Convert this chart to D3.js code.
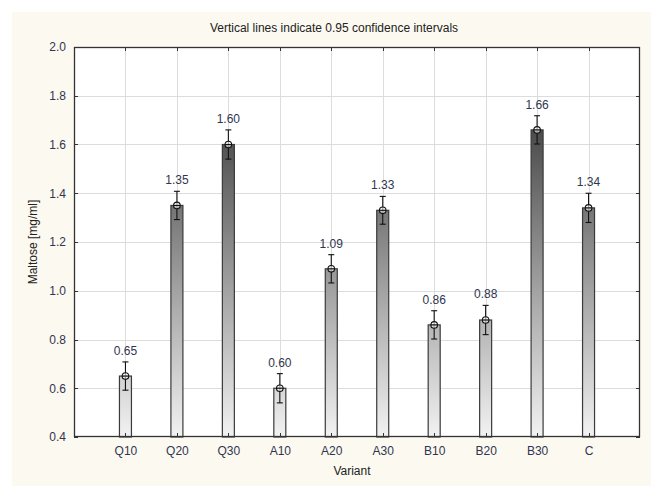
<!DOCTYPE html>
<html>
<head>
<meta charset="utf-8">
<script src="https://cdn.jsdelivr.net/npm/d3@7"></script>
<style>
  html, body { margin: 0; padding: 0; background: #ffffff; }
  svg { display: block; }
  text { font-family: Arial, "Liberation Sans", sans-serif; }
</style>
</head>
<body>
<script>
// Maltose concentration per variant, with 0.95 confidence half-widths
const categories = ["Q10", "Q20", "Q30", "A10", "A20", "A30", "B10", "B20", "B30", "C"];
const means = [0.65, 1.35, 1.60, 0.60, 1.09, 1.33, 0.86, 0.88, 1.66, 1.34];
const ciHalf = [0.058, 0.058, 0.060, 0.060, 0.058, 0.057, 0.058, 0.060, 0.058, 0.060];
const yTicks = [0.4, 0.6, 0.8, 1.0, 1.2, 1.4, 1.6, 1.8, 2.0];

const W = 651, H = 486;
const plot = { left: 74, top: 47, right: 640, bottom: 437 };

const svg = d3.select("body").append("svg").attr("width", W).attr("height", H);

// panel background
svg.append("rect").attr("x", 12).attr("y", 12).attr("width", W - 12).attr("height", H - 12)
  .attr("fill", "#fcf9f0");
svg.append("rect").attr("x", plot.left).attr("y", plot.top)
  .attr("width", plot.right - plot.left).attr("height", plot.bottom - plot.top)
  .attr("fill", "#ffffff");

const x = d3.scalePoint().domain(categories).range([plot.left, plot.right]).padding(1);
const y = d3.scaleLinear().domain([0.4, 2.0]).range([plot.bottom, plot.top]);

// bar fill gradient spanning the whole value axis
const defs = svg.append("defs");
const grad = defs.append("linearGradient").attr("id", "barGrad")
  .attr("gradientUnits", "userSpaceOnUse")
  .attr("x1", 0).attr("x2", 0).attr("y1", y(2.0)).attr("y2", y(0.4));
grad.append("stop").attr("offset", "0%").attr("stop-color", "#1e1e1e");
grad.append("stop").attr("offset", "100%").attr("stop-color", "#f2f2f2");

// grid
const grid = svg.append("g").attr("stroke", "#dcdcdc").attr("stroke-width", 1);
grid.selectAll("line.h").data(yTicks.slice(1, -1)).join("line")
  .attr("x1", plot.left).attr("x2", plot.right)
  .attr("y1", d => Math.round(y(d)) + 0.5).attr("y2", d => Math.round(y(d)) + 0.5);
grid.selectAll("line.v").data(categories).join("line")
  .attr("y1", plot.top).attr("y2", plot.bottom)
  .attr("x1", d => Math.round(x(d)) + 0.5).attr("x2", d => Math.round(x(d)) + 0.5);

// bars
const barW = 12;
svg.append("g").selectAll("rect").data(categories).join("rect")
  .attr("x", d => x(d) - barW / 2)
  .attr("y", (d, i) => y(means[i]))
  .attr("width", barW)
  .attr("height", (d, i) => y(0.4) - y(means[i]))
  .attr("fill", "url(#barGrad)")
  .attr("stroke", "#3a3a3a").attr("stroke-width", 1.2);

// confidence intervals
const eb = svg.append("g").attr("stroke", "#111").attr("stroke-width", 1.1).attr("fill", "none");
categories.forEach((c, i) => {
  const cx = x(c);
  const hi = y(means[i] + ciHalf[i]), lo = y(means[i] - ciHalf[i]);
  eb.append("line").attr("x1", cx).attr("x2", cx).attr("y1", hi).attr("y2", lo);
  eb.append("line").attr("x1", cx - 3).attr("x2", cx + 3).attr("y1", hi).attr("y2", hi);
  eb.append("line").attr("x1", cx - 3).attr("x2", cx + 3).attr("y1", lo).attr("y2", lo);
  const my = y(means[i]);
  eb.append("circle").attr("cx", cx).attr("cy", my).attr("r", 3.3)
    .attr("fill", "rgba(255,255,255,0.6)");
  eb.append("line").attr("x1", cx - 3.3).attr("x2", cx + 3.3).attr("y1", my).attr("y2", my);
});

// value labels
svg.append("g").selectAll("text").data(categories).join("text")
  .attr("x", d => x(d))
  .attr("y", (d, i) => y(means[i] + ciHalf[i]) - 7)
  .attr("text-anchor", "middle")
  .attr("font-size", 12)
  .attr("fill", "#2f3650")
  .text((d, i) => means[i].toFixed(2));

// frame
svg.append("rect").attr("x", plot.left + 0.5).attr("y", plot.top + 0.5)
  .attr("width", plot.right - plot.left - 1).attr("height", plot.bottom - plot.top - 1)
  .attr("fill", "none").attr("stroke", "#333").attr("stroke-width", 1.3);

// inward ticks
const tk = svg.append("g").attr("stroke", "#333").attr("stroke-width", 1);
categories.forEach(c => {
  const cx = Math.round(x(c)) + 0.5;
  tk.append("line").attr("x1", cx).attr("x2", cx).attr("y1", plot.bottom).attr("y2", plot.bottom - 4);
  tk.append("line").attr("x1", cx).attr("x2", cx).attr("y1", plot.top).attr("y2", plot.top + 4);
});
yTicks.forEach(v => {
  const yy = Math.round(y(v)) + 0.5;
  tk.append("line").attr("x1", plot.left).attr("x2", plot.left + 4).attr("y1", yy).attr("y2", yy);
  tk.append("line").attr("x1", plot.right).attr("x2", plot.right - 4).attr("y1", yy).attr("y2", yy);
});

// axis labels
const yAxis = d3.axisLeft(y).tickValues(yTicks).tickFormat(d3.format(".1f")).tickSize(0).tickPadding(8);
const gy = svg.append("g").attr("transform", `translate(${plot.left},0)`).call(yAxis);
gy.select(".domain").remove();
gy.selectAll("text").attr("font-size", 12).attr("fill", "#2f3650").attr("font-family", "Arial, 'Liberation Sans', sans-serif");

const xAxis = d3.axisBottom(x).tickSize(0).tickPadding(9);
const gx = svg.append("g").attr("transform", `translate(0,${plot.bottom})`).call(xAxis);
gx.select(".domain").remove();
gx.selectAll("text").attr("font-size", 12).attr("fill", "#2f3650").attr("font-family", "Arial, 'Liberation Sans', sans-serif");

// titles
svg.append("text").attr("x", 334).attr("y", 32)
  .attr("text-anchor", "middle").attr("font-size", 12).attr("fill", "#222")
  .text("Vertical lines indicate 0.95 confidence intervals");
svg.append("text").attr("x", 352).attr("y", 475)
  .attr("text-anchor", "middle").attr("font-size", 12).attr("fill", "#222")
  .text("Variant");
svg.append("text").attr("transform", `translate(37,${(plot.top + plot.bottom) / 2}) rotate(-90)`)
  .attr("text-anchor", "middle").attr("font-size", 12).attr("fill", "#222")
  .text("Maltose [mg/ml]");
</script>
</body>
</html>
